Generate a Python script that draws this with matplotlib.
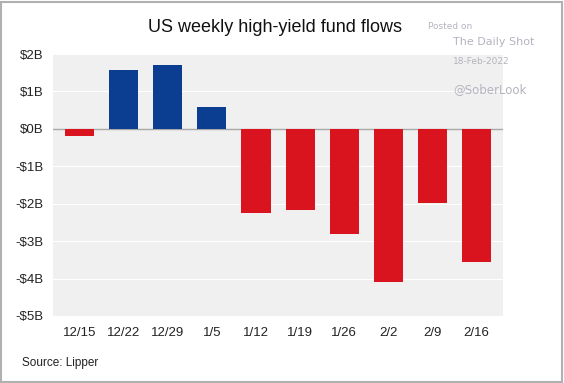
import matplotlib.pyplot as plt
from matplotlib.patches import Rectangle

weeks = ["12/15", "12/22", "12/29", "1/5", "1/12", "1/19", "1/26", "2/2", "2/9", "2/16"]
flows = [-0.2, 1.58, 1.7, 0.59, -2.24, -2.16, -2.81, -4.08, -1.97, -3.56]
yticks = [2, 1, 0, -1, -2, -3, -4, -5]
ylabels = ["$2B", "$1B", "$0B", "-$1B", "-$2B", "-$3B", "-$4B", "-$5B"]

plt.rcParams['font.family'] = ['Liberation Sans', 'DejaVu Sans']

fig = plt.figure(figsize=(5.64, 3.83), dpi=100)
ax = fig.add_axes([0.094, 0.175, 0.798, 0.684])
ax.set_facecolor("#f0f0f0")

colors = ["#0b3d91" if v > 0 else "#d9141e" for v in flows]
x = range(len(weeks))
ax.bar(x, flows, width=0.66, color=colors, zorder=3)
ax.axhline(0, color="#a8a8a8", lw=1, zorder=2)

ax.set_ylim(-5, 2)
ax.set_xlim(-0.6, len(weeks) - 0.4)
ax.set_yticks(yticks)
ax.set_yticklabels(ylabels)
ax.set_xticks(list(x))
ax.set_xticklabels(weeks)
ax.grid(axis="y", color="white", lw=0.8, zorder=1)
ax.tick_params(length=0, labelsize=9.5, colors="#222222")
ax.tick_params(axis="x", pad=8)
ax.tick_params(axis="y", pad=7)
for s in ax.spines.values():
    s.set_visible(False)

fig.text(0.488, 0.927, "US weekly high-yield fund flows", ha="center", va="center",
         fontsize=13, color="#111111")
fig.text(0.039, 0.052, "Source: Lipper", ha="left", va="center", fontsize=8.5, color="#222222")

# watermark
wm = "#b4b4c0"
fig.text(0.759, 0.93, "Posted on", fontsize=6.5, color=wm, family="DejaVu Sans", va="center")
fig.text(0.803, 0.89, "The Daily Shot", fontsize=8, color=wm, family="DejaVu Sans", va="center")
fig.text(0.803, 0.84, "18-Feb-2022", fontsize=6.5, color=wm, family="DejaVu Sans", va="center")
fig.text(0.803, 0.765, "@SoberLook", fontsize=8.5, color=wm, family="DejaVu Sans", va="center")

fig.patches.append(Rectangle((0.002, 0.003), 0.995, 0.993, transform=fig.transFigure,
                             fill=False, edgecolor="#b0b0b0", lw=1.5))

fig.savefig("out.png", dpi=100)
